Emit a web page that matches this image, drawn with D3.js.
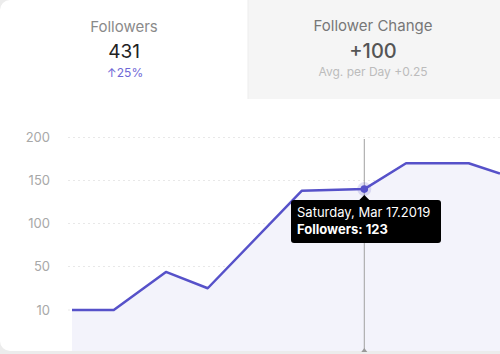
<!DOCTYPE html>
<html>
<head>
<meta charset="utf-8">
<script src="https://cdnjs.cloudflare.com/ajax/libs/d3/7.8.5/d3.min.js"></script>
<style>
  html, body { margin: 0; padding: 0; background: #ececec; }
  body { width: 500px; height: 354px; overflow: hidden; font-family: Inter, "Noto Sans", sans-serif; }
  svg { display: block; }
</style>
</head>
<body>
<div id="chart"></div>
<script>
// days in March 2019
var days = [3, 5, 7.5, 9.5, 14, 17, 19, 22, 23.5];
var followers = [10, 10, 45, 30, 138, 140, 170, 170, 158];
var yTicks = [10, 50, 100, 150, 200];
var focusIndex = 5;
var tooltipDate = "Saturday, Mar 17.2019";
var tooltipValue = "Followers: 123";

var W = 500, H = 354;
var purple = "#5651c9";

var svg = d3.select("#chart").append("svg")
    .attr("width", W)
    .attr("height", H);

// card
svg.append("rect")
    .attr("x", 0).attr("y", 0)
    .attr("width", W + 20).attr("height", 351)
    .attr("rx", 10)
    .attr("fill", "#fff");

// summary tiles
svg.append("rect")
    .attr("x", 248).attr("y", 0)
    .attr("width", W - 248 + 10).attr("height", 99)
    .attr("fill", "#f5f5f5");
svg.append("line")
    .attr("x1", 248).attr("x2", 248).attr("y1", 0).attr("y2", 99)
    .attr("stroke", "#ededed");

var head = svg.append("g").attr("text-anchor", "middle");
head.append("text").attr("x", 124).attr("y", 32)
    .attr("font-size", 15).attr("fill", "#8a8a8a").text("Followers");
head.append("text").attr("x", 124).attr("y", 58)
    .attr("font-size", 19).attr("fill", "#222").text("431");
head.append("text").attr("x", 125).attr("y", 77)
    .attr("font-size", 12).attr("fill", "#6f68d6").text("↑25%");

head.append("text").attr("x", 373).attr("y", 31)
    .attr("font-size", 15).attr("fill", "#777").text("Follower Change");
head.append("text").attr("x", 373).attr("y", 58)
    .attr("font-size", 20).attr("font-weight", 500).attr("fill", "#555").text("+100");
head.append("text").attr("x", 373).attr("y", 76)
    .attr("font-size", 12).attr("fill", "#bcbcbc").text("Avg. per Day +0.25");

// scales
var x = d3.scaleLinear()
    .domain(d3.extent(days))
    .range([72, 500]);

var y = d3.scaleLinear()
    .domain(yTicks)
    .range([310, 266.5, 223.5, 180.5, 137.5]);

// grid + y labels
var grid = svg.append("g");
grid.selectAll("line").data(yTicks).join("line")
    .attr("x1", 68).attr("x2", W)
    .attr("y1", function(d) { return y(d); })
    .attr("y2", function(d) { return y(d); })
    .attr("stroke", "#e8e8e8")
    .attr("stroke-dasharray", "2,3");

svg.append("g")
    .attr("transform", "translate(50,0)")
    .call(d3.axisLeft(y).tickValues(yTicks).tickSize(0).tickPadding(0))
    .call(function(g) { g.select(".domain").remove(); })
    .call(function(g) {
        g.selectAll("text")
            .attr("font-family", "Inter, 'Noto Sans', sans-serif")
            .attr("font-size", 13)
            .attr("fill", "#a8a8a8");
    });

// area + line
var pts = days.map(function(d, i) { return [d, followers[i]]; });

var area = d3.area()
    .x(function(d) { return x(d[0]); })
    .y0(351)
    .y1(function(d) { return y(d[1]); });

svg.append("path")
    .datum(pts)
    .attr("d", area)
    .attr("fill", "#f3f3fb");

var line = d3.line()
    .x(function(d) { return x(d[0]); })
    .y(function(d) { return y(d[1]); });

svg.append("path")
    .datum(pts)
    .attr("d", line)
    .attr("fill", "none")
    .attr("stroke", purple)
    .attr("stroke-width", 2.5)
    .attr("stroke-linejoin", "round");

// crosshair
var fx = x(days[focusIndex]);
var fy = y(followers[focusIndex]);

svg.append("line")
    .attr("x1", fx).attr("x2", fx)
    .attr("y1", 139).attr("y2", 351)
    .attr("stroke", "#a0a0a0")
    .attr("stroke-width", 1);

svg.append("path")
    .attr("d", "M" + (fx - 3) + ",352 L" + fx + ",348 L" + (fx + 3) + ",352 Z")
    .attr("fill", "#999");

svg.append("circle")
    .attr("cx", fx).attr("cy", fy).attr("r", 7)
    .attr("fill", purple).attr("fill-opacity", 0.18);
svg.append("circle")
    .attr("cx", fx).attr("cy", fy).attr("r", 3.8)
    .attr("fill", purple);

// tooltip
var tip = svg.append("g");
tip.append("path")
    .attr("d", "M" + (fx - 6) + "," + (fy + 12) + " L" + fx + "," + (fy + 6) + " L" + (fx + 6) + "," + (fy + 12) + " Z")
    .attr("fill", "#000");
tip.append("rect")
    .attr("x", 291).attr("y", fy + 11)
    .attr("width", 150).attr("height", 43)
    .attr("rx", 3)
    .attr("fill", "#000");
tip.append("text")
    .attr("x", 297).attr("y", fy + 28)
    .attr("font-size", 13).attr("fill", "#fff")
    .text(tooltipDate);
tip.append("text")
    .attr("x", 297).attr("y", fy + 45)
    .attr("font-size", 13).attr("font-weight", 700).attr("fill", "#fff")
    .text(tooltipValue);
</script>
</body>
</html>
